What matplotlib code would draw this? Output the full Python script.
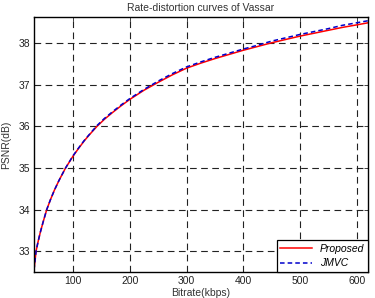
import matplotlib
matplotlib.use("Agg")
import matplotlib.pyplot as plt

plt.rcParams.update({
    "font.family": ["Liberation Sans", "DejaVu Sans"],
    "font.size": 7.5,
})

# bitrate (kbps) and PSNR (dB)
bitrate = [31, 34.6, 38, 42, 47, 53.4, 60, 67, 75, 80, 86.6, 100, 110, 120, 130, 142,
           155, 170, 185, 200, 225, 250, 275, 300, 325, 350, 375, 400, 425, 450, 475,
           500, 525, 550, 575, 600, 620]
psnr_proposed = [32.55, 33.00, 33.22, 33.45, 33.70, 34.00, 34.24, 34.47, 34.70, 34.83, 35.00,
                 35.29, 35.48, 35.66, 35.82, 36.00, 36.17, 36.34, 36.50, 36.65, 36.87, 37.06,
                 37.24, 37.40, 37.52, 37.63, 37.73, 37.83, 37.92, 38.01, 38.09, 38.17, 38.24,
                 38.31, 38.38, 38.44, 38.49]
psnr_jmvc = [32.55, 33.00, 33.22, 33.45, 33.70, 34.00, 34.24, 34.47, 34.70, 34.83, 35.00,
             35.30, 35.49, 35.67, 35.83, 36.02, 36.19, 36.36, 36.52, 36.67, 36.89, 37.09,
             37.27, 37.43, 37.55, 37.66, 37.76, 37.86, 37.95, 38.05, 38.13, 38.21, 38.28,
             38.35, 38.43, 38.49, 38.54]

xticks = [100, 200, 300, 400, 500, 600]
yticks = [33, 34, 35, 36, 37, 38]

fig = plt.figure(figsize=(3.75, 2.98), dpi=100)
ax = fig.add_axes([0.0907, 0.087, 0.8906, 0.856])

ax.plot(bitrate, psnr_proposed, color="#ff0000", lw=1.1, label="Proposed")
ax.plot(bitrate, psnr_jmvc, color="#0000cc", lw=1.1, ls=(0, (3, 2)), label="JMVC")

ax.set_xlim(31, 620)
ax.set_ylim(32.5, 38.63)
ax.set_xticks(xticks)
ax.set_yticks(yticks)
ax.tick_params(direction="in", top=True, right=True, length=3, width=0.6,
               labelsize=7.5, colors="#222222", pad=3)
ax.grid(True, color="#222222", ls=(0, (6, 4)), lw=0.8)
for s in ax.spines.values():
    s.set_linewidth(1.0)
    s.set_color("black")

ax.set_title("Rate-distortion curves of Vassar", fontsize=7.5, color="#333333", pad=4)
ax.set_xlabel("Bitrate(kbps)", fontsize=7.5, color="#333333", labelpad=1.5)
ax.set_ylabel("PSNR(dB)", fontsize=7.5, color="#333333", labelpad=5)

leg = ax.legend(loc="lower right", fancybox=False, framealpha=1, edgecolor="black",
                prop={"style": "italic", "size": 7.5}, handlelength=3.0,
                borderaxespad=0.0, borderpad=0.35, labelspacing=0.45)
leg.get_frame().set_linewidth(0.9)

fig.savefig("out.png", dpi=100, facecolor="white")
